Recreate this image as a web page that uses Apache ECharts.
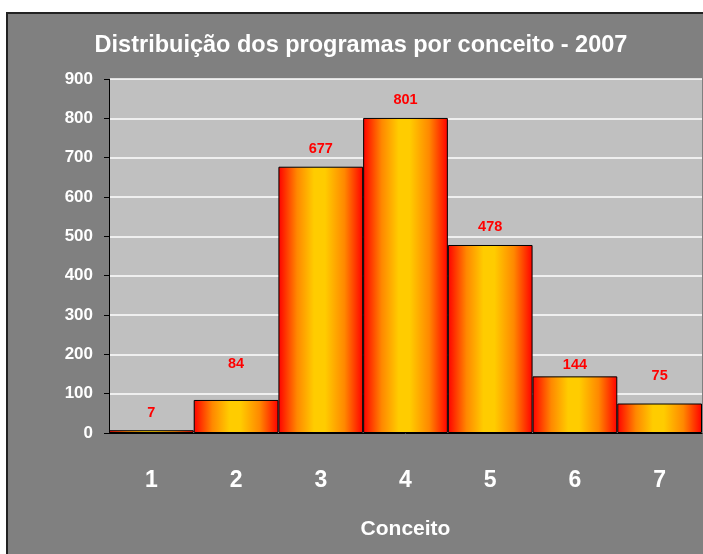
<!DOCTYPE html>
<html>
<head>
<meta charset="utf-8">
<script src="https://cdn.jsdelivr.net/npm/echarts@6/dist/echarts.min.js"></script>
<style>
  html, body {margin: 0; padding: 0; background: #fff;}
  #main {width: 703px; height: 554px;}
</style>
</head>
<body>
<div id="main"></div>
<script>
let categories = ['1', '2', '3', '4', '5', '6', '7'];
let programas = [7, 84, 677, 801, 478, 144, 75];
// how far each value label sits above its bar (Excel placed them unevenly)
let labelGap = [10, 28, 10, 10, 10, 4, 20];
let yTicks = [0, 100, 200, 300, 400, 500, 600, 700, 800, 900];

let font = '"Liberation Sans", Arial, sans-serif';

let barFill = new echarts.graphic.LinearGradient(0, 0, 1, 0, [
    {offset: 0, color: '#ff0000'},
    {offset: 0.22, color: '#ff8800'},
    {offset: 0.42, color: '#ffcc00'},
    {offset: 0.55, color: '#ffcc00'},
    {offset: 0.78, color: '#ff8800'},
    {offset: 1, color: '#ff0000'}
]);

let chart = echarts.init(document.getElementById('main'));
chart.setOption({
    backgroundColor: '#ffffff',
    animation: false,
    textStyle: {fontFamily: font},
    graphic: [{
        type: 'rect',
        z: -10,
        shape: {x: 7, y: 13, width: 710, height: 560},
        style: {fill: '#808080', stroke: '#222222', lineWidth: 2}
    }],
    title: {
        text: 'Distribuição dos programas por conceito - 2007',
        left: 356,
        top: 29,
        textAlign: 'center',
        textStyle: {color: '#ffffff', fontSize: 23.5, fontWeight: 'bold', fontFamily: font}
    },
    grid: {
        left: 109, right: 1, top: 79, bottom: 121,
        show: true, backgroundColor: '#c0c0c0', borderWidth: 0
    },
    xAxis: {
        type: 'category',
        data: categories,
        name: 'Conceito',
        nameLocation: 'middle',
        nameGap: 86,
        nameTextStyle: {color: '#ffffff', fontSize: 21, fontWeight: 'bold', fontFamily: font},
        axisLine: {lineStyle: {color: '#000000', width: 1}},
        axisTick: {length: 8, lineStyle: {color: '#404040'}},
        axisLabel: {color: '#ffffff', fontSize: 23, fontWeight: 'bold', margin: 36, fontFamily: font}
    },
    yAxis: {
        type: 'value',
        min: yTicks[0],
        max: yTicks[yTicks.length - 1],
        interval: 100,
        axisLine: {show: true, lineStyle: {color: '#000000', width: 1}},
        axisTick: {show: true, length: 5, lineStyle: {color: '#000000'}},
        axisLabel: {color: '#ffffff', fontSize: 17, fontWeight: 'bold', margin: 16, fontFamily: font},
        splitLine: {lineStyle: {color: '#ffffff', width: 1.5}}
    },
    series: [{
        type: 'bar',
        barCategoryGap: 0,
        data: programas.map((v, i) => ({
            value: v,
            label: {distance: labelGap[i]}
        })),
        itemStyle: {color: barFill, borderColor: '#000000', borderWidth: 1},
        label: {
            show: true,
            position: 'top',
            color: '#ff0000',
            fontSize: 14.5,
            fontWeight: 'bold',
            fontFamily: font
        }
    }]
});
</script>
</body>
</html>
